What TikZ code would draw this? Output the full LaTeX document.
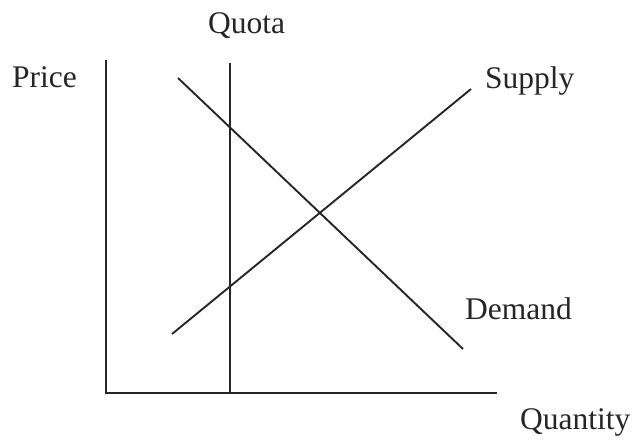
\documentclass[tikz,border=0pt]{standalone}
\usepackage{fontspec}
\setmainfont{Liberation Serif}
\tikzset{
  lbl/.style={inner sep=0pt, anchor=base west, font=\fontsize{31.5}{36}\selectfont, text=black!85},
  ln/.style={line width=1.9pt, draw=black!85}
}
\begin{document}
\begin{tikzpicture}[x=1pt,y=-1pt]
\useasboundingbox (0,0) rectangle (632,440);
% axes
\coordinate (ytop) at (106,60);
\coordinate (origin) at (106,393);
\coordinate (xend) at (497,393);
\coordinate (qtop) at (230,63);
\coordinate (qbot) at (230,393);
\coordinate (d1) at (178,78);
\coordinate (d2) at (463,349);
\coordinate (s1) at (172,334);
\coordinate (s2) at (471,89);
\draw[ln] (ytop) -- (origin) -- (xend);
\draw[ln] (qtop) -- (qbot);
\draw[ln] (d1) -- (d2);
\draw[ln] (s1) -- (s2);
% labels
\node[lbl] (price) at (12,87) {Price};
\node[lbl] (quota) at (208,33) {Quota};
\node[lbl] (supply) at (485,88) {Supply};
\node[lbl] (demand) at (465,319) {Demand};
\node[lbl] (quantity) at (520,429) {Quantity};
\end{tikzpicture}
\end{document}
